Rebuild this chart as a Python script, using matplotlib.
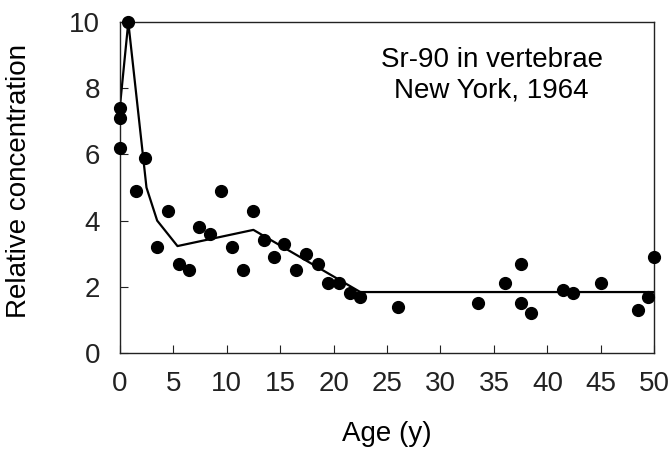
import matplotlib.pyplot as plt

plt.rcParams['font.family'] = ['Liberation Sans', 'DejaVu Sans']

# measured Sr-90 concentration by age
age = [0, 0, 0, 0.8, 1.5, 2.4, 3.5, 4.5, 5.5, 6.5, 7.4, 8.4, 9.5, 10.5,
       11.5, 12.5, 13.5, 14.4, 15.4, 16.5, 17.4, 18.5, 19.5, 20.5, 21.5,
       22.5, 26.0, 33.5, 36.0, 37.5, 37.5, 38.5, 41.5, 42.4, 45.0, 48.5,
       49.4, 50.0]
conc = [6.2, 7.1, 7.4, 10.0, 4.9, 5.9, 3.2, 4.3, 2.7, 2.5, 3.8, 3.6, 4.9,
        3.2, 2.5, 4.3, 3.4, 2.9, 3.3, 2.5, 3.0, 2.7, 2.1, 2.1, 1.8, 1.7,
        1.4, 1.5, 2.1, 2.7, 1.5, 1.2, 1.9, 1.8, 2.1, 1.3, 1.7, 2.9]

# model curve
fit_age = [0, 0, 0.8, 2.5, 3.5, 5.4, 12.5, 22.5, 50]
fit_conc = [6.2, 7.4, 10.0, 5.0, 4.0, 3.23, 3.72, 1.84, 1.84]

fig = plt.figure(figsize=(6.69, 4.53), dpi=100)
ax = fig.add_axes([0.179, 0.221, 0.799, 0.730])

ax.plot(fit_age, fit_conc, color='black', linewidth=1.6, zorder=2)
ax.plot(age, conc, 'o', color='black', markersize=8.5, zorder=3,
        clip_on=False)

ax.set_xlim(0, 50)
ax.set_ylim(0, 10)
ax.set_xticks(range(0, 51, 5))
ax.set_yticks(range(0, 11, 2))
ax.tick_params(direction='in', length=6, width=0.8, labelsize=20,
               colors='#222222', pad=13)
ax.tick_params(axis='y', pad=14)
for s in ax.spines.values():
    s.set_linewidth(1.0)
    s.set_color('#222222')

ax.set_xlabel('Age (y)', fontsize=20)
ax.set_ylabel('Relative concentration', fontsize=20)
ax.xaxis.set_label_coords(0.5, -0.205)
ax.yaxis.set_label_coords(-0.165, 0.52)

ax.text(34.8, 8.4, 'Sr-90 in vertebrae\nNew York, 1964', ha='center',
        va='center', fontsize=20, linespacing=1.2)

fig.savefig('out.png', dpi=100)
